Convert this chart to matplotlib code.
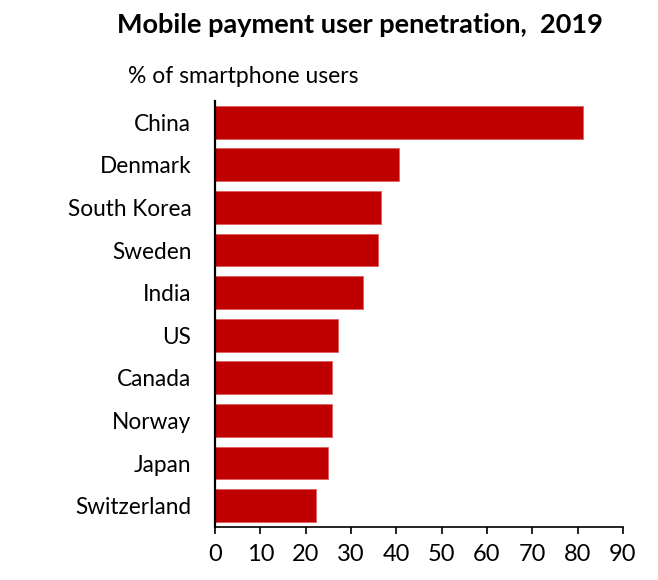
import matplotlib as mpl
mpl.use("Agg")
import matplotlib.pyplot as plt

# data
countries = ["China", "Denmark", "South Korea", "Sweden", "India",
             "US", "Canada", "Norway", "Japan", "Switzerland"]
penetration = [81.2, 40.7, 36.6, 36.0, 32.6, 27.1, 25.8, 25.8, 25.0, 22.2]
xticks = list(range(0, 100, 10))

RED = "#c00000"
plt.rcParams["font.family"] = ["Lato", "DejaVu Sans"]

fig = plt.figure(figsize=(6.58, 5.8), dpi=100)
ax = fig.add_axes([0.3267, 0.0914, 0.62, 0.7345])

y = list(range(len(countries)))
ax.barh(y, penetration, height=0.77, color=RED, edgecolor="#e06060", linewidth=0.6)
ax.set_ylim(len(countries) - 0.5, -0.5)
ax.set_xlim(0, 90)
ax.set_yticks(y)
ax.set_yticklabels(countries, fontsize=16.3)
ax.set_xticks(xticks)
ax.set_xticklabels([str(t) for t in xticks], fontsize=17)
ax.tick_params(axis="y", length=0, pad=17)
ax.tick_params(axis="x", direction="out", length=5, width=1.2, pad=7)
for s in ("top", "right"):
    ax.spines[s].set_visible(False)
ax.spines["left"].set_linewidth(1.6)
ax.spines["bottom"].set_linewidth(1.2)

fig.text(0.547, 0.957, "Mobile payment user penetration,  2019", ha="center", va="center",
         fontsize=19.5, fontweight="bold")
fig.text(0.195, 0.868, "% of smartphone users", ha="left", va="center", fontsize=16.5)

fig.savefig("out.png", dpi=100)
